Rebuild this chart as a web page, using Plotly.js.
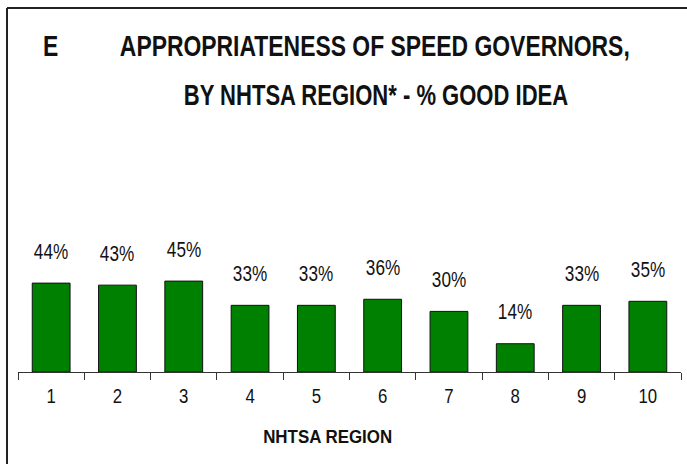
<!DOCTYPE html>
<html>
<head>
<meta charset="utf-8">
<script src="https://cdn.plot.ly/plotly-3.0.1.min.js"></script>
<style>html,body{margin:0;padding:0;background:#fff;}#chart{width:687px;height:464px;}</style>
</head>
<body>
<div id="chart"></div>
<script>
const regions = ["1","2","3","4","5","6","7","8","9","10"];
const goodIdea = [44, 43, 45, 33, 33, 36, 30, 14, 33, 35];
const valueLabels = ["44%","43%","45%","33%","33%","36%","30%","14%","33%","35%"];
const titleLetter = "E";
const titleLine1 = "APPROPRIATENESS OF SPEED GOVERNORS,";
const titleLine2 = "BY NHTSA REGION* - % GOOD IDEA";
const xTitle = "NHTSA REGION";

const narrow = "'Liberation Sans Narrow', 'Arial Narrow', 'Liberation Sans', Arial, sans-serif";

// plot area: x 18..681, y 170..372
const L = 18, R = 681, T = 170, B = 372;
const px = x => (x - L) / (R - L);
const py = y => (B - y) / (B - T);

const annotations = regions.map((r, i) => ({
  x: i, y: goodIdea[i], xref: 'x', yref: 'y',
  text: valueLabels[i], showarrow: false, yanchor: 'middle', yshift: 32,
  font: {family: narrow, size: 22, color: '#111'}, name: 'val'
}));
annotations.push(
  {x: px(50), y: py(46), xref: 'paper', yref: 'paper', text: '<b>' + titleLetter + '</b>', showarrow: false,
   xanchor: 'center', yanchor: 'middle', font: {family: narrow, size: 29, color: '#111'}, name: 't1'},
  {x: px(375), y: py(46), xref: 'paper', yref: 'paper', text: '<b>' + titleLine1 + '</b>', showarrow: false,
   xanchor: 'center', yanchor: 'middle', font: {family: narrow, size: 29, color: '#111'}, name: 't1'},
  {x: px(375.5), y: py(95), xref: 'paper', yref: 'paper', text: '<b>' + titleLine2 + '</b>', showarrow: false,
   xanchor: 'center', yanchor: 'middle', font: {family: narrow, size: 29, color: '#111'}, name: 't2'},
  {x: px(327), y: py(437), xref: 'paper', yref: 'paper', text: '<b>' + xTitle + '</b>', showarrow: false,
   xanchor: 'center', yanchor: 'middle', font: {family: narrow, size: 18, color: '#111'}, name: 'xt'}
);
const squeezeFactors = {val: 0.78, t1: 0.79, t2: 0.76, xt: 0.94};

const data = [{
  type: 'bar', x: regions, y: goodIdea,
  marker: {color: '#008000', line: {color: '#111', width: 1}},
  hoverinfo: 'skip'
}];

const layout = {
  width: 687, height: 464,
  margin: {l: L, r: 687 - R, t: T, b: 464 - B, pad: 0},
  paper_bgcolor: '#fff', plot_bgcolor: '#fff',
  showlegend: false,
  bargap: 0.43,
  xaxis: {
    type: 'category', tickson: 'boundaries', ticks: 'outside', ticklen: 7, tickwidth: 1, tickcolor: '#333',
    showline: true, linecolor: '#333', linewidth: 1, showgrid: false, zeroline: false,
    range: [-0.5, 9.5],
    tickfont: {family: narrow, size: 21, color: '#111'}, ticklabelstandoff: 5
  },
  yaxis: {visible: false, range: [0, 100], fixedrange: true},
  annotations: annotations,
  shapes: [
    {type: 'line', xref: 'paper', yref: 'paper', x0: px(7), x1: px(700), y0: py(8), y1: py(8), line: {color: '#222', width: 2}},
    {type: 'line', xref: 'paper', yref: 'paper', x0: px(7), x1: px(7), y0: py(8), y1: py(480), line: {color: '#222', width: 2}}
  ]
};

// horizontal squeeze to imitate a narrow typeface (no narrow font installed)
function squeeze(el, s) {
  const bb = el.getBBox();
  const cx = bb.x + bb.width / 2;
  const prev = el.getAttribute('transform') || '';
  el.setAttribute('transform', prev + ' translate(' + cx + ' 0) scale(' + s + ' 1) translate(' + (-cx) + ' 0)');
}

Plotly.newPlot('chart', data, layout, {staticPlot: true, displayModeBar: false}).then(gd => {
  gd.querySelectorAll('.xtick text').forEach(t => squeeze(t, 0.8));
  gd.querySelectorAll('g.annotation').forEach((g, i) => {
    const t = g.querySelector('.annotation-text');
    const a = annotations[i];
    if (t && a) squeeze(t, squeezeFactors[a.name] || 0.8);
  });
});
</script>
</body>
</html>
